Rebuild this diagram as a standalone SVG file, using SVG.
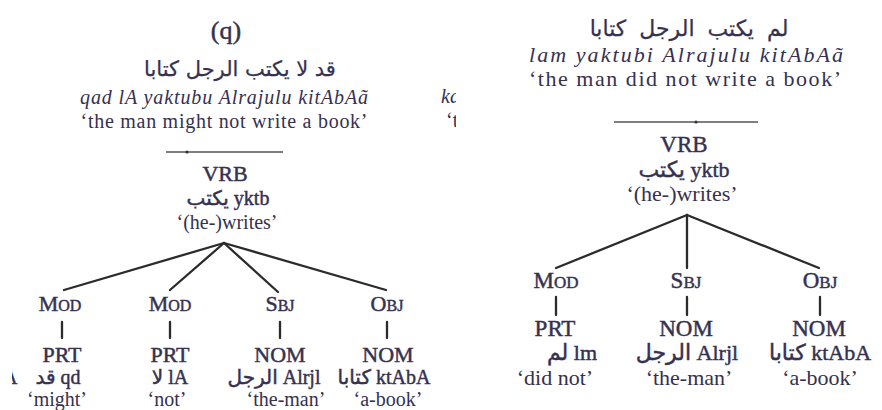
<svg xmlns="http://www.w3.org/2000/svg" width="882" height="410" viewBox="0 0 882 410">
<style>
.t{font-family:"Liberation Serif","DejaVu Sans",serif;fill:#35314f;font-size:20px;text-anchor:middle}
.h{stroke:#35314f;stroke-width:0.45}
.a{stroke:#35314f;stroke-width:0.25}
.it{font-style:italic}
.ar{font-family:"DejaVu Sans",sans-serif}
.L{font-size:22px}
.sc{font-size:16px}
.R{font-size:22px}
.RL{font-size:23px}
.rsc{font-size:17px}
.ln{stroke:#2b2b2b;stroke-width:2.3;fill:none;stroke-linecap:round}
.sep{stroke:#555;stroke-width:1.3}
</style>
<defs>
<clipPath id="cA"><rect x="12" y="360" width="10" height="40"/></clipPath>
<clipPath id="cK"><rect x="436" y="80" width="20" height="60"/></clipPath>
</defs>
<rect width="882" height="410" fill="#fff"/>

<g id="connectors">
<line class="sep" x1="166" y1="152" x2="283" y2="152"/>
<circle cx="187" cy="152" r="1.6" fill="#333"/>
<line class="ln" x1="224" y1="243" x2="64" y2="290"/>
<line class="ln" x1="224" y1="243" x2="170" y2="290"/>
<line class="ln" x1="224" y1="243" x2="278" y2="292"/>
<line class="ln" x1="224" y1="243" x2="386" y2="290"/>
<line class="ln" x1="62" y1="322" x2="62" y2="338"/>
<line class="ln" x1="170" y1="322" x2="170" y2="338"/>
<line class="ln" x1="280" y1="322" x2="280" y2="338"/>
<line class="ln" x1="387" y1="322" x2="387" y2="338"/>
<line class="sep" x1="614" y1="122" x2="758" y2="122"/>
<circle cx="696" cy="122" r="1.6" fill="#333"/>
<line class="ln" x1="687" y1="215" x2="556" y2="268"/>
<line class="ln" x1="687" y1="215" x2="687" y2="268"/>
<line class="ln" x1="687" y1="215" x2="819" y2="268"/>
<line class="ln" x1="556" y1="297" x2="556" y2="315"/>
<line class="ln" x1="687" y1="297" x2="687" y2="315"/>
<line class="ln" x1="820" y1="297" x2="820" y2="315"/>
</g>

<g id="header-q">
<text class="t h" x="226" y="39" style="font-size:26px">(q)</text>
<text class="t ar a" x="240" y="76" style="font-size:21px">قد لا يكتب الرجل كتابا</text>
<text class="t it" x="224" y="104" textLength="288" lengthAdjust="spacing">qad lA  yaktubu Alrajulu kitAbAã</text>
<text class="t" x="224" y="128" textLength="287" lengthAdjust="spacing">‘the man might not write a book’</text>
</g>
<g id="partial" clip-path="url(#cK)">
<text class="t it" x="441" y="103" style="text-anchor:start">ka</text>
<text class="t" x="446" y="127" style="text-anchor:start">‘th</text>
</g>

<g id="q-vrb">
<text class="t h L" x="225" y="181">VRB</text>
<text class="t h" x="228" y="205">يكتب yktb</text>
<text class="t" x="227" y="229">‘(he-)writes’</text>
</g>
<g id="q-mod1">
<text class="t h L" x="60" y="311">M<tspan class="sc">OD</tspan></text>
<text class="t h L" x="62" y="362">PRT</text>
<text class="t h" x="58" y="384">قد qd</text>
<text class="t" x="57" y="406">‘might’</text>
</g>
<g id="q-mod2">
<text class="t h L" x="170" y="311">M<tspan class="sc">OD</tspan></text>
<text class="t h L" x="170" y="362">PRT</text>
<text class="t h" x="170" y="384">لا lA</text>
<text class="t" x="167" y="406">‘not’</text>
</g>
<g id="q-sbj">
<text class="t h L" x="280" y="311">S<tspan class="sc">BJ</tspan></text>
<text class="t h L" x="280" y="362">NOM</text>
<text class="t h" x="274" y="384">الرجل Alrjl</text>
<text class="t" x="286" y="406">‘the-man’</text>
</g>
<g id="q-obj">
<text class="t h L" x="387" y="311">O<tspan class="sc">BJ</tspan></text>
<text class="t h L" x="388" y="362">NOM</text>
<text class="t h" x="384" y="384">كتابا ktAbA</text>
<text class="t" x="388" y="406">‘a-book’</text>
</g>
<g id="partialA" clip-path="url(#cA)">
<text class="t h" x="3" y="384" style="text-anchor:start">A</text>
</g>

<g id="header-r">
<text class="t ar a" x="689" y="36" style="font-size:22px;word-spacing:6px">لم يكتب الرجل كتابا</text>
<text class="t it R" x="686" y="62" textLength="314" lengthAdjust="spacing">lam yaktubi Alrajulu kitAbAã</text>
<text class="t R" x="685" y="86" textLength="312" lengthAdjust="spacing">‘the man did not write a book’</text>
</g>
<g id="r-vrb">
<text class="t h RL" x="684" y="152">VRB</text>
<text class="t h R" x="684" y="177">يكتب yktb</text>
<text class="t R" x="682" y="201">‘(he-)writes’</text>
</g>
<g id="r-mod">
<text class="t h RL" x="556" y="288">M<tspan class="rsc">OD</tspan></text>
<text class="t h RL" x="555" y="336">PRT</text>
<text class="t h R" x="572" y="360">لم lm</text>
<text class="t R" x="555" y="385">‘did not’</text>
</g>
<g id="r-sbj">
<text class="t h RL" x="686" y="288">S<tspan class="rsc">BJ</tspan></text>
<text class="t h RL" x="686" y="336">NOM</text>
<text class="t h R" x="687" y="360">الرجل Alrjl</text>
<text class="t R" x="689" y="385">‘the-man’</text>
</g>
<g id="r-obj">
<text class="t h RL" x="820" y="288">O<tspan class="rsc">BJ</tspan></text>
<text class="t h RL" x="819" y="336">NOM</text>
<text class="t h R" x="820" y="360">كتابا ktAbA</text>
<text class="t R" x="820" y="385">‘a-book’</text>
</g>
</svg>
